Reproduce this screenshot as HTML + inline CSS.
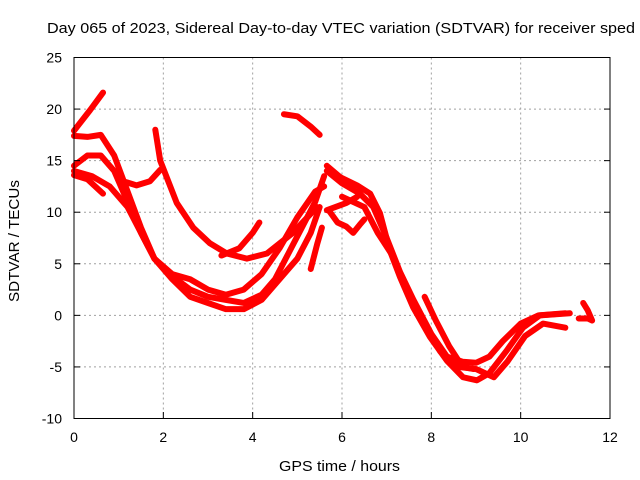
<!DOCTYPE html>
<html><head><meta charset="utf-8"><style>
body{margin:0;background:#fff}svg{display:block;font-family:"Liberation Sans",sans-serif}
</style></head><body>
<svg id="chart" width="640" height="480">
<rect width="640" height="480" fill="#fff"/>
<g id="grid"></g>
<g id="series"></g>
<rect x="74" y="57.5" width="536" height="361" fill="none" stroke="#000" stroke-width="1"/>
<g id="ticks" font-size="14"></g>
<text x="47" y="33" font-size="15" textLength="588" lengthAdjust="spacingAndGlyphs">Day 065 of 2023, Sidereal Day-to-day VTEC variation (SDTVAR) for receiver sped</text>
<text x="279" y="471" font-size="15" textLength="121" lengthAdjust="spacingAndGlyphs">GPS time / hours</text>
<text x="0" y="0" font-size="15" text-anchor="middle" textLength="122" lengthAdjust="spacingAndGlyphs" transform="translate(19,241) rotate(-90)">SDTVAR / TECUs</text>
</svg>
<script>
const xTicks=[0,2,4,6,8,10,12];
const yTicks=[-10,-5,0,5,10,15,20,25];
const s1=[[0,17.4],[0.3,17.3],[0.6,17.5],[0.9,15.5],[1.2,12],[1.5,8.5],[1.8,5.5],[2.2,3.8],[2.6,2.5],[3,1.8],[3.4,1.5],[3.8,1.2],[4.2,2],[4.5,3.5],[4.8,6],[5.1,8.5],[5.4,11],[5.6,13.5]];
const s2=[[0,14.5],[0.3,15.5],[0.6,15.5],[0.9,14],[1.2,11],[1.5,8],[1.8,5.5],[2.2,4],[2.6,3.5],[3,2.5],[3.4,2],[3.8,2.5],[4.2,4],[4.6,6.5],[5,9.5],[5.4,12],[5.6,12.5]];
const s3=[[0,14],[0.4,13.5],[0.8,12.5],[1.2,10.5],[1.5,8],[1.8,5.5],[2.2,3.5],[2.6,1.8],[3,1.2],[3.4,0.6],[3.8,0.6],[4.2,1.5],[4.6,3.5],[5,5.5],[5.3,8],[5.5,10.5]];
const s4=[[0,13.6],[0.3,13.2],[0.65,11.8]];
const s5=[[0,17.9],[0.36,19.9],[0.65,21.6]];
const s6=[[1.03,13.1],[1.4,12.6],[1.7,13],[1.93,14.1]];
const s7=[[1.82,18],[1.93,15],[2.3,10.9],[2.67,8.5],[3.04,7],[3.42,6],[3.87,5.5],[4.32,6],[4.9,8],[5.44,10.5]];
const s8=[[3.3,5.8],[3.7,6.5],[4.0,8],[4.15,9]];
const s9=[[4.7,19.5],[5.0,19.3],[5.3,18.3],[5.5,17.5]];
const s10=[[5.3,4.5],[5.45,7],[5.55,8.5]];
const s11=[[5.66,14.5],[5.96,13.4],[6.34,12.6],[6.63,11.8],[6.85,9.9],[7.07,6.3],[7.3,3.7],[7.59,0.8],[7.97,-2.1],[8.35,-4.4],[8.71,-6],[9.02,-6.3],[9.3,-5.6],[9.69,-3.4],[10.05,-1.2],[10.43,0],[11.1,0.2]];
const s12=[[5.66,14],[6.0,12.8],[6.4,11.8],[6.7,10.5],[7.0,7.5],[7.3,4.2],[7.6,1.5],[8.0,-1.8],[8.35,-4],[8.7,-4.5],[9.0,-4.6],[9.3,-4],[9.6,-2.5],[10.0,-0.8],[10.4,0],[11.0,0.2]];
const s13=[[6.0,11.5],[6.5,10.5],[6.8,8],[7.1,6],[7.4,3],[7.8,-0.5],[8.2,-3.5],[8.6,-5],[9.0,-5.2],[9.4,-6],[9.7,-4.5],[10.1,-2],[10.5,-0.8],[11.0,-1.2]];
const s14=[[7.85,1.8],[8.1,-0.5],[8.4,-3],[8.7,-5],[8.95,-5.2]];
const s15=[[5.7,10.2],[5.9,9],[6.1,8.6],[6.25,8],[6.4,8.8],[6.5,9.3]];
const s16=[[5.66,10.2],[6.1,10.9],[6.34,11.5]];
const s17=[[11.4,1.2],[11.5,0.5],[11.6,-0.5],[11.5,-0.3],[11.3,-0.3]];
const allSeries=[s1,s2,s3,s4,s5,s6,s7,s8,s9,s10,s11,s12,s13,s14,s15,s16,s17];
const X=v=>74+v*536/12, Y=v=>418.5-(v+10)*361/35;
const NS="http://www.w3.org/2000/svg";
const grid=document.getElementById('grid'),ticks=document.getElementById('ticks'),ser=document.getElementById('series');
function mk(t,a,p){const e=document.createElementNS(NS,t);for(const k in a)e.setAttribute(k,a[k]);p.appendChild(e);return e;}
xTicks.forEach(t=>{const x=X(t);
 if(t>0&&t<12){const l=mk('line',{x1:x,x2:x,y1:57.5,y2:418.5,stroke:'#a0a0a0','stroke-dasharray':'2,3'},grid);
 
 }
 const tk=mk('line',{x1:x,x2:x,y1:418.5,y2:412,stroke:'#000'},ticks);
 
 
 const tx=mk('text',{x:x,y:442,'text-anchor':'middle'},ticks);tx.textContent=t;
 
 });
yTicks.forEach(t=>{const y=Y(t);
 if(t>-10&&t<25){const l=mk('line',{x1:74,x2:610,y1:y,y2:y,stroke:'#a0a0a0','stroke-dasharray':'2,3'},grid);
 
 }
 const tk=mk('line',{x1:74,x2:80,y1:y,y2:y,stroke:'#000'},ticks);
 
 
 const tk2=mk('line',{x1:604,x2:610,y1:y,y2:y,stroke:'#000'},ticks);
 
 
 const tx=mk('text',{x:62,y:y+5,'text-anchor':'end'},ticks);tx.textContent=t;
 
 });
allSeries.forEach(s=>{
 const p=mk('polyline',{points:s.map(d=>X(d[0])+','+Y(d[1])).join(' '),fill:'none',stroke:'#ff0000','stroke-width':6,'stroke-linejoin':'round','stroke-linecap':'round'},ser);
 
 
});
</script>
</body></html>
